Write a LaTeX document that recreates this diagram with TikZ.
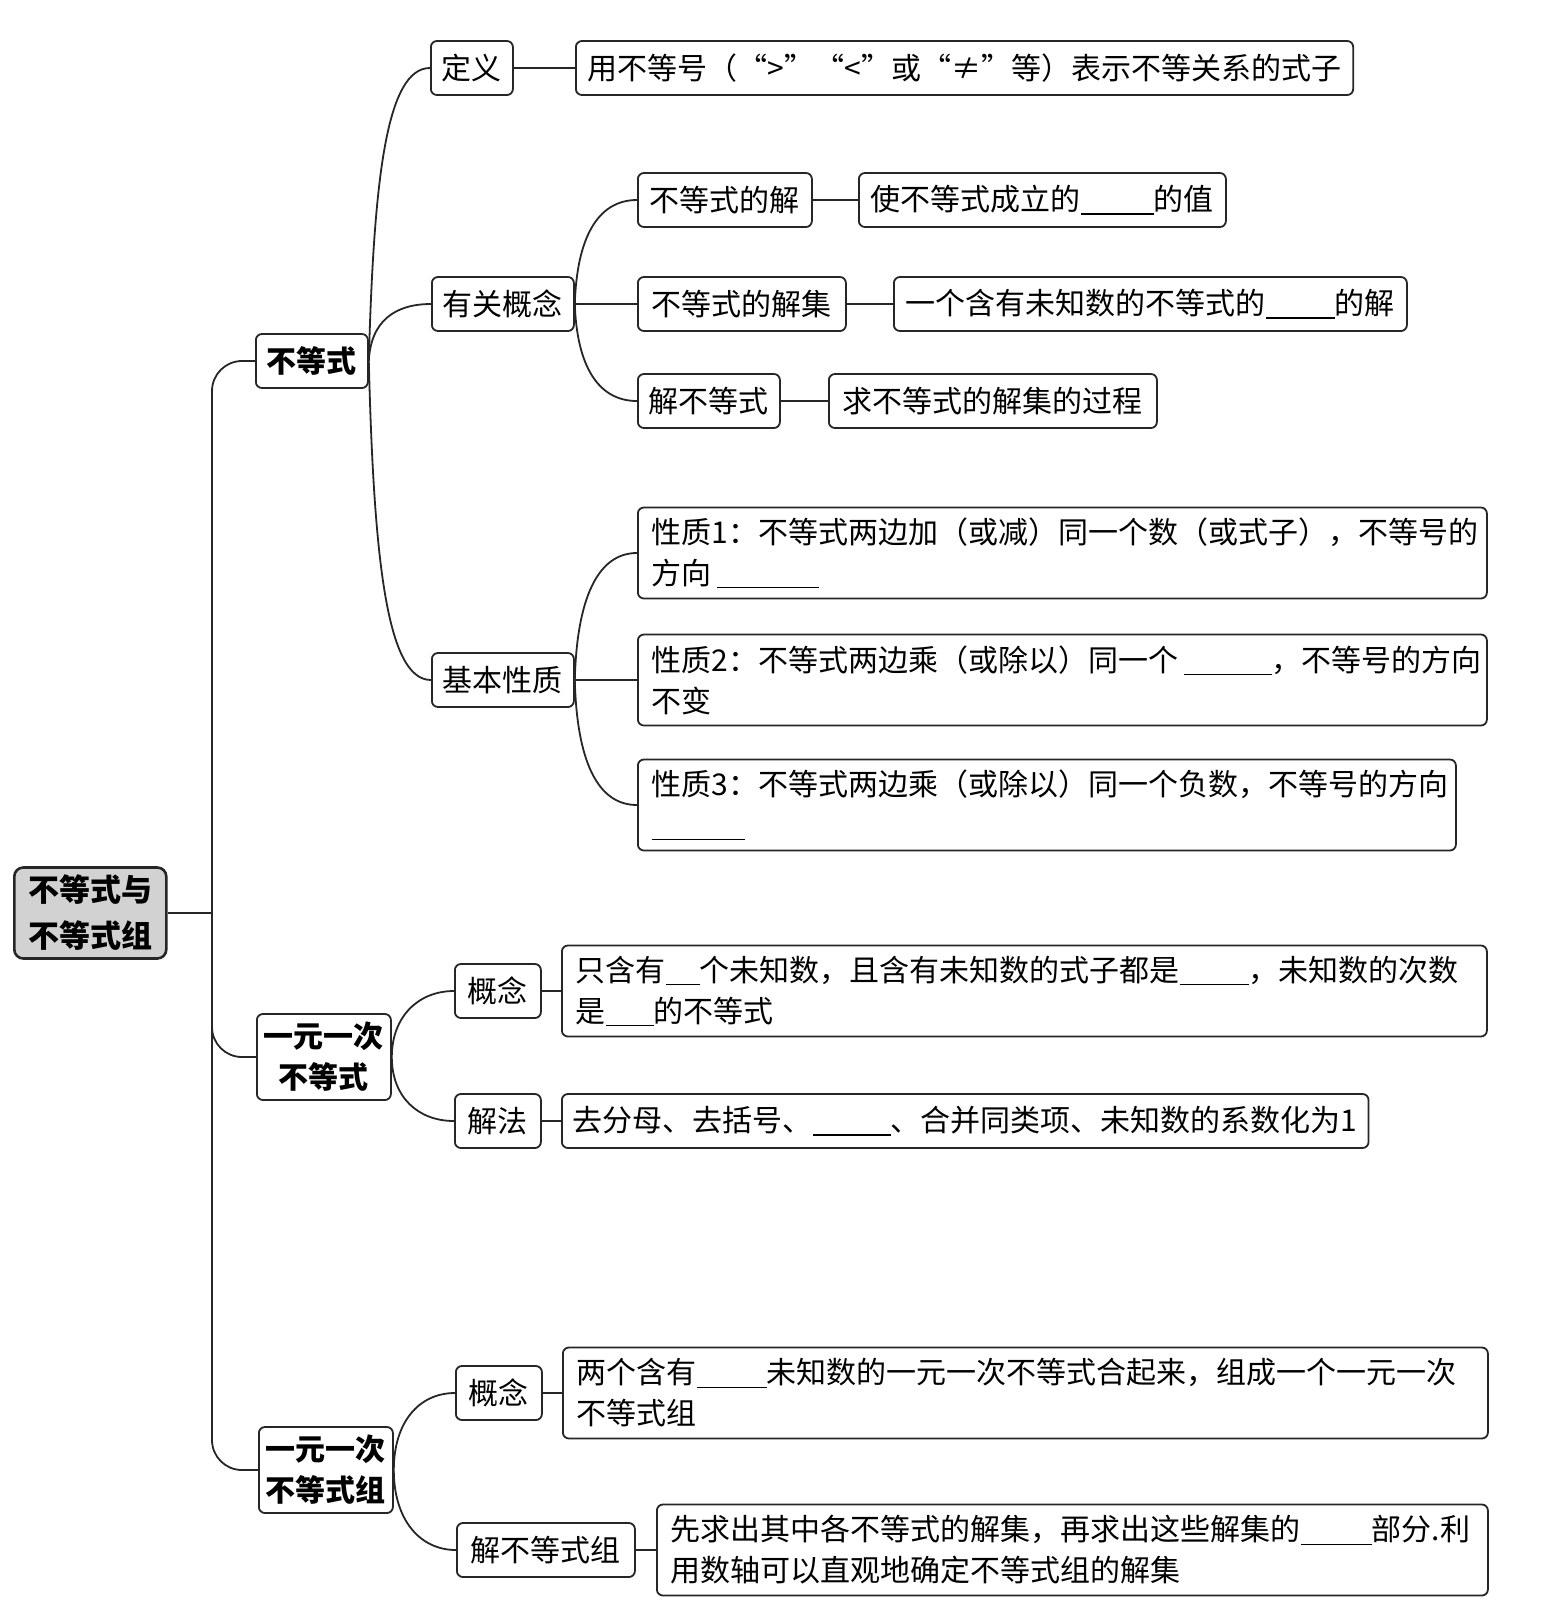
\documentclass[tikz,border=0pt]{standalone}
\usepackage{fontspec}
\setmainfont{Noto Sans CJK SC}
\usepackage{tikz}
\newcommand{\blank}[1]{\rule[-4pt]{#1pt}{1.4pt}}

\begin{document}
\begin{tikzpicture}[x=1pt,y=-1pt,every node/.style={font=\fontsize{30}{41}\selectfont},
  box/.style={draw=black!85,line width=1.8pt,rounded corners=6pt,anchor=west,inner xsep=12pt,inner ysep=0pt,minimum height=54pt},
  head/.style={box,font=\fontsize{30}{41}\selectfont\bfseries,align=center,minimum height=86pt,inner xsep=7pt},
  longbox/.style={box,align=left,minimum height=91pt,inner xsep=14pt},
  link/.style={draw=black!85,line width=1.8pt}]
\useasboundingbox (0,0) rectangle (1562,1623);
% root and first level
\node[head,fill=gray!35,line width=2.6pt,rounded corners=9pt,minimum height=91pt,inner xsep=14pt,font=\fontsize{31}{46}\selectfont\bfseries] (root) at (13,913) {不等式与\\不等式组};
\node[box,font=\fontsize{30}{41}\selectfont\bfseries,inner xsep=11pt] (ineq) at (255,361) {不等式};
\node[head] (lin) at (256,1057) {一元一次\\不等式};
\node[head] (sys) at (258,1470) {一元一次\\不等式组};
% 不等式
\node[box,inner xsep=11pt] (def) at (430,68) {定义};
\node[box,inner xsep=11pt] (rel) at (431,304) {有关概念};
\node[box,inner xsep=11pt] (prop) at (431,680) {基本性质};
\node[box] (deft) at (575,68) {用不等号（“>”“<”或“≠”等）表示不等关系的式子};
\node[box] (sol) at (637,200) {不等式的解};
\node[box] (solt) at (858,200) {使不等式成立的\blank{73}的值};
\node[box,inner xsep=14pt] (set) at (637,304) {不等式的解集};
\node[box] (sett) at (893,304) {一个含有未知数的不等式的\blank{69}的解};
\node[box,inner xsep=11pt] (solve) at (637,401) {解不等式};
\node[box,inner xsep=14pt] (solvet) at (828,401) {求不等式的解集的过程};
\node[longbox,text width=821pt] (p1) at (637,553) {性质1：不等式两边加（或减）同一个数（或式子），不等号的\\方向\,\blank{102}};
\node[longbox,text width=821pt] (p2) at (637,680) {性质2：不等式两边乘（或除以）同一个\,\blank{88}，不等号的方向\\不变};
\node[longbox,text width=790pt] (p3) at (637,805) {性质3：不等式两边乘（或除以）同一个负数，不等号的方向\\\blank{93}};
% 一元一次不等式
\node[box,inner xsep=13pt] (c1) at (454,991) {概念};
\node[box,inner xsep=13pt] (m1) at (454,1121) {解法};
\node[longbox,text width=897pt] (c1t) at (561,991) {只含有\blank{34}个未知数，且含有未知数的式子都是\blank{69}，未知数的次数\\是\blank{48}的不等式};
\node[box,inner xsep=11pt] (m1t) at (561,1121) {去分母、去括号、\blank{78}、合并同类项、未知数的系数化为1};
% 一元一次不等式组
\node[box,inner xsep=13pt] (c2) at (455,1393) {概念};
\node[box,inner xsep=14pt] (m2) at (456,1550) {解不等式组};
\node[longbox,text width=897pt] (c2t) at (562,1393) {两个含有\blank{70}未知数的一元一次不等式合起来，组成一个一元一次\\不等式组};
\node[longbox,text width=803pt] (m2t) at (656,1550) {先求出其中各不等式的解集，再求出这些解集的\blank{71}部分.利\\用数轴可以直观地确定不等式组的解集};
% branches
\coordinate (rsp) at (212,913);
\draw[link] (root.east) -- (rsp);
\draw[link,rounded corners=30pt] (rsp) |- (ineq.west);
\draw[link,rounded corners=30pt] (rsp) |- (lin.west);
\draw[link,rounded corners=30pt] (rsp) |- (sys.west);
\draw[link] (ineq.east) .. controls +(5,-180) and +(-44,0) .. (def.west);
\draw[link] (ineq.east) .. controls +(2,-40) and +(-36,0) .. (rel.west);
\draw[link] (ineq.east) .. controls +(5,200) and +(-44,0) .. (prop.west);
\draw[link] (rel.east) .. controls +(2,-65) and +(-40,0) .. (sol.west);
\draw[link] (rel.east) -- (set.west);
\draw[link] (rel.east) .. controls +(2,60) and +(-40,0) .. (solve.west);
\draw[link] (prop.east) .. controls +(2,-80) and +(-40,0) .. (p1.west);
\draw[link] (prop.east) -- (p2.west);
\draw[link] (prop.east) .. controls +(2,80) and +(-40,0) .. (p3.west);
\draw[link] (lin.east) .. controls +(0,-40) and +(-36,0) .. (c1.west);
\draw[link] (lin.east) .. controls +(0,40) and +(-36,0) .. (m1.west);
\draw[link] (sys.east) .. controls +(0,-48) and +(-36,0) .. (c2.west);
\draw[link] (sys.east) .. controls +(0,50) and +(-36,0) .. (m2.west);
% leaves
\draw[link] (def.east) -- (deft.west);
\draw[link] (sol.east) -- (solt.west);
\draw[link] (set.east) -- (sett.west);
\draw[link] (solve.east) -- (solvet.west);
\draw[link] (c1.east) -- (c1t.west);
\draw[link] (m1.east) -- (m1t.west);
\draw[link] (c2.east) -- (c2t.west);
\draw[link] (m2.east) -- (m2t.west);
\end{tikzpicture}
\end{document}
